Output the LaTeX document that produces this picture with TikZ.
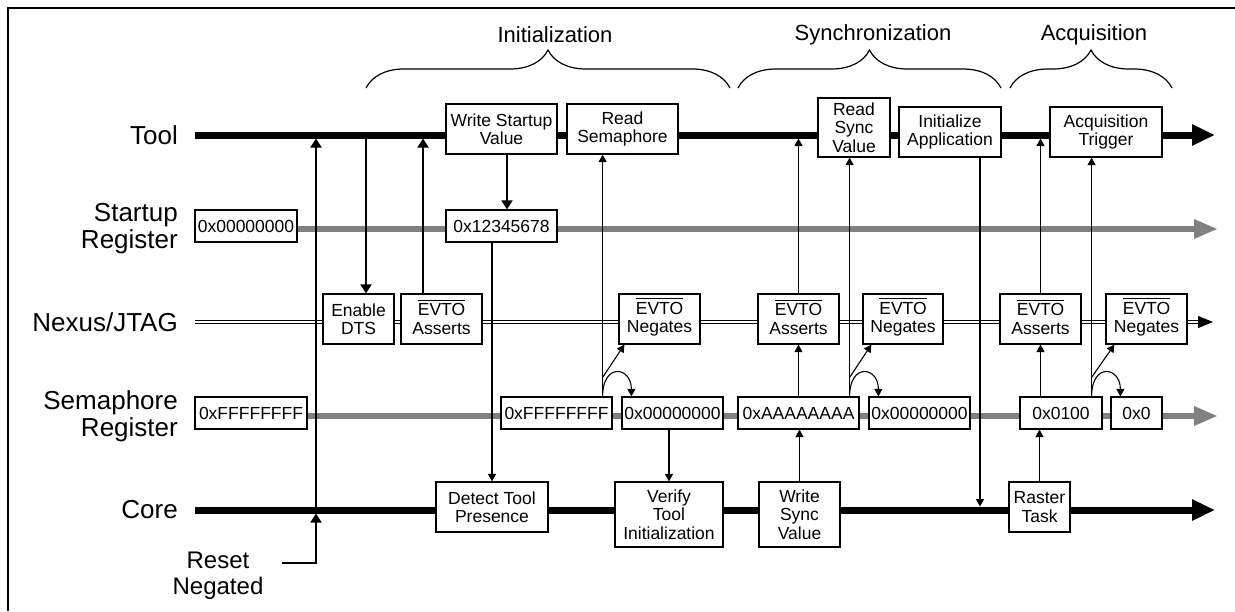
\documentclass[tikz,border=0pt]{standalone}
\usepackage{fontspec}
\setmainfont{Liberation Sans}
\usetikzlibrary{arrows.meta,decorations.pathreplacing}
\definecolor{reggray}{RGB}{128,128,128}

% active-low signal name, bar on top
\newsavebox{\sigbox}
\newcommand{\lowsig}[1]{\sbox{\sigbox}{#1}%
    \rlap{\raisebox{\dimexpr\ht\sigbox+2.4pt\relax}[0pt][0pt]{\rule{\wd\sigbox}{1.4pt}}}%
    \usebox{\sigbox}}

\begin{document}
\begin{tikzpicture}[x=1pt, y=-1pt, >={Triangle[length=7.5pt,width=8pt]},
        lane/.style = {font=\fontsize{26}{27}\selectfont, align=right, anchor=east, inner sep=0pt},
        phase/.style = {font=\fontsize{22}{26}\selectfont},
        box/.style 2 args = {draw, fill=white, line width=1.2pt, inner sep=0pt, align=center,
            font=\fontsize{17.5}{18.5}\selectfont, minimum width=#1pt, minimum height=#2pt},
        bus/.style = {line width=7pt, -{Triangle[length=23pt,width=20pt]}},
        reg/.style = {line width=6pt, draw=reggray, -{Triangle[length=24pt,width=18pt]}},
        jtag/.style = {double, line width=1pt, double distance=1.6pt},
        sig/.style = {->, line width=1.1pt},
        bigsig/.style = {-{Triangle[length=9pt,width=11pt]}, line width=1.8pt},
        phasebrace/.style = {decorate, decoration={brace, amplitude=38pt}, line width=1.2pt}]
    \useasboundingbox (0,0) rectangle (1235,611);
    \draw[line width=1.6pt] (8,611) -- (8,8) -- (1235,8);

    % phases
    \node[phase] (init) at (555,35) {Initialization};
    \node[phase] (sync) at (873,35) {Synchronization};
    \node[phase] (acq) at (1094,35) {Acquisition};
    \draw[phasebrace] (366,88) -- (730,88);
    \draw[phasebrace] (738,88) -- (1001,88);
    \draw[phasebrace] (1010,88) -- (1172,88);

    % lanes
    \node[lane] (tool) at (178,135) {Tool};
    \node[lane] (startup) at (178,229) {Startup\\Register};
    \node[lane] (nexus) at (178,322) {Nexus/JTAG};
    \node[lane] (sema) at (178,416) {Semaphore\\Register};
    \node[lane] (core) at (178,510) {Core};

    \coordinate (toolA) at (195,135);
    \coordinate (coreA) at (195,510);
    \draw[bus] (toolA) -- (1215,135);
    \draw[reg] (246,229) -- (1218,229);
    \draw[jtag] (195,322) -- (1199,322);
    \draw[-{Triangle[length=15pt,width=12pt]}, line width=1pt] (1198,322) -- (1213,322);
    \draw[reg] (251,416) -- (1218,416);
    \draw[bus] (coreA) -- (1215,510);

    % tool
    \node[box={111}{50}] (wstart) at (501.5,129) {Write Startup\\Value};
    \node[box={111}{50}] (rsem) at (622.5,129) {Read\\Semaphore};
    \node[box={72}{59}] (rsync) at (854,127.5) {Read\\Sync\\Value};
    \node[box={102}{50}] (initapp) at (950,132) {Initialize\\Application};
    \node[box={112}{50}] (acqtrig) at (1106,132) {Acquisition\\Trigger};
    % startup register
    \node[box={102}{32}] (st0) at (246,226) {0x00000000};
    \node[box={111}{32}] (st1) at (501.5,226) {0x12345678};
    % nexus
    \node[box={71}{50}] (dts) at (358.5,319) {Enable\\DTS};
    \node[box={81}{50}] (as1) at (441.5,319) {\lowsig{EVTO}\\Asserts};
    \node[box={81}{50}] (ng1) at (659.5,319) {\lowsig{EVTO}\\Negates};
    \node[box={81}{50}] (as2) at (798.5,319) {\lowsig{EVTO}\\Asserts};
    \node[box={80}{50}] (ng2) at (903,319) {\lowsig{EVTO}\\Negates};
    \node[box={81}{50}] (as3) at (1040.5,319) {\lowsig{EVTO}\\Asserts};
    \node[box={81}{50}] (ng3) at (1146.5,319) {\lowsig{EVTO}\\Negates};
    % semaphore register
    \node[box={112}{32}] (sm0) at (251,413) {0xFFFFFFFF};
    \node[box={111}{32}] (sm1) at (556.5,413) {0xFFFFFFFF};
    \node[box={101}{32}] (sm2) at (672.5,413) {0x00000000};
    \node[box={121}{32}] (sm3) at (798.5,413) {0xAAAAAAAA};
    \node[box={101}{32}] (sm4) at (919.5,413) {0x00000000};
    \node[box={82}{32}] (sm5) at (1061,413) {0x0100};
    \node[box={51}{32}] (sm6) at (1136.5,413) {0x0};
    % core
    \node[box={112}{50}] (detect) at (492,507) {Detect Tool\\Presence};
    \node[box={108}{65}] (verify) at (669,514.5) {Verify\\Tool\\Initialization};
    \node[box={81}{65}] (wsync) at (799.5,514.5) {Write\\Sync\\Value};
    \node[box={61}{50}] (raster) at (1039.5,507) {Raster\\Task};
    \node[lane, anchor=center, align=center, font=\fontsize{24}{26}\selectfont] (reset) at (218,576) {Reset\\Negated};

    % reset
    \coordinate (rst) at (282,563);
    \coordinate (rstx) at (316,510);
    \draw[bigsig, shorten >=3.5pt] (rst) -| (rstx);
    \draw[bigsig, shorten >=3.5pt] (rstx) -- (rstx |- toolA);

    % initialization
    \coordinate (dtsin) at ([xshift=7.5pt]dts.north);
    \coordinate (as1out) at ([xshift=-18.5pt]as1.north);
    \draw[bigsig, shorten <=3.5pt] (dtsin |- toolA) -- (dtsin);
    \draw[bigsig, shorten >=3.5pt] (as1out) -- (as1out |- toolA);
    \draw[bigsig] ([xshift=5.5pt]wstart.south) -- ([xshift=5.5pt]st1.north);
    \draw[sig] (st1.south -| detect.north) -- (detect.north);
    \coordinate (b1) at ([xshift=-10pt]sm1.north east);
    \draw[sig] (b1) -- (b1 |- rsem.south);
    \draw[sig] ([yshift=19pt]b1) -- ([xshift=6pt]ng1.south west);
    \draw[sig] (b1) .. controls +(0,-34) and +(0,-30) .. ([xshift=10pt]sm2.north west);
    \draw[sig] (sm2.south -| verify.north) -- (verify.north);

    % synchronization
    \draw[sig] (sm3.north -| as2.south) -- (as2.south);
    \draw[sig, shorten >=3.5pt] (as2.north) -- (as2.north |- toolA);
    \draw[sig] (wsync.north) -- (wsync.north |- sm3.south);
    \coordinate (b2) at ([xshift=-10pt]sm3.north east);
    \draw[sig] (b2) -- (b2 |- rsync.south);
    \draw[sig] ([yshift=19pt]b2) -- ([xshift=9pt]ng2.south west);
    \draw[sig] (b2) .. controls +(0,-34) and +(0,-30) .. ([xshift=10pt]sm4.north west);
    \coordinate (iaout) at ([xshift=30pt]initapp.south);
    \draw[sig, shorten >=3.5pt] (iaout) -- (iaout |- coreA);

    % acquisition
    \draw[sig] (raster.north) -- (raster.north |- sm5.south);
    \draw[sig] (sm5.north -| as3.south) -- (as3.south);
    \draw[sig, shorten >=3.5pt] (as3.north) -- (as3.north |- toolA);
    \coordinate (b3) at ([xshift=-11pt]sm5.north east);
    \draw[sig] (b3) -- (b3 |- acqtrig.south);
    \draw[sig] ([yshift=19pt]b3) -- ([xshift=9pt]ng3.south west);
    \draw[sig] (b3) .. controls +(0,-34) and +(0,-30) .. ([xshift=10pt]sm6.north west);
\end{tikzpicture}
\end{document}
